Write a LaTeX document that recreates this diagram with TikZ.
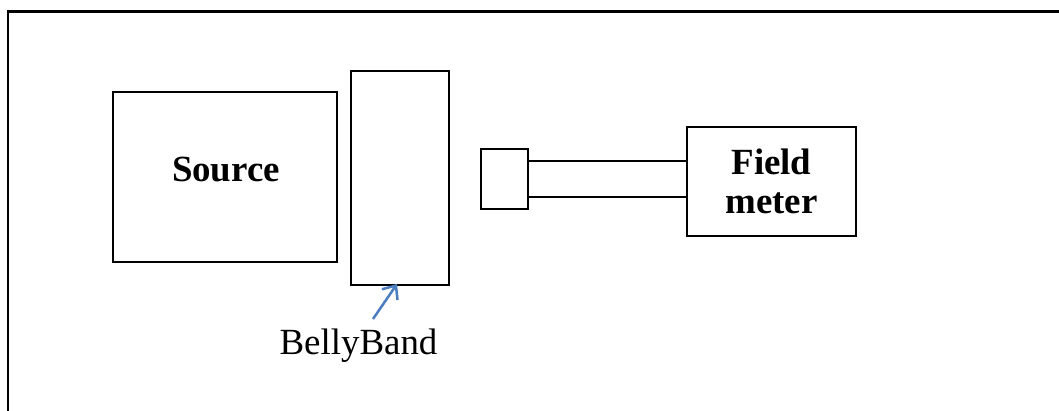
\documentclass[tikz,border=0pt]{standalone}
\usepackage{fontspec}
\setmainfont{Liberation Serif}
\usetikzlibrary{positioning,calc,arrows.meta}
\definecolor{arrowblue}{RGB}{74,126,190}
\tikzset{box/.style={draw,rectangle,line width=0.04cm,inner sep=0pt},
         title/.style={font=\fontsize{21}{22.2}\selectfont\bfseries,align=center},
         caption/.style={font=\fontsize{21}{20}\selectfont},
         frame/.style={line width=0.06cm},
         tube/.style={line width=0.04cm},
         pointer/.style={->,>={Straight Barb[length=0.22cm,width=0.38cm]},arrowblue,line width=0.05cm}
}

\begin{document}
\begin{tikzpicture}[x=0.02cm,y=-0.02cm]
      \useasboundingbox (0,0) rectangle (1059,411);
      \draw[frame] (8,411) -- (8,12) -- (1059,12);
      \node[box,minimum width=224*0.02cm,minimum height=170*0.02cm] (source) at (224.5,177) {};
      \node[title,anchor=base] (sourcetext) at (226,182) {Source};
      \node[box,minimum width=98*0.02cm,minimum height=214*0.02cm] (band) at (400,178) {};
      \node[box,minimum width=47*0.02cm,minimum height=60*0.02cm] (probe) at (504.5,179) {};
      \node[box,title,minimum width=169*0.02cm,minimum height=109*0.02cm] (meter) at (771.5,181.5) {Field\\meter};
      \draw[tube] ([yshift=0.36cm]probe.east) -- ([yshift=0.36cm]probe.east -| meter.west);
      \draw[tube] ([yshift=-0.36cm]probe.east) -- ([yshift=-0.36cm]probe.east -| meter.west);
      \node[caption,anchor=base] (bellyband) at (358.5,355) {BellyBand};
      \coordinate (tail) at (373,319);
      \draw[pointer] (tail) -- ([xshift=-0.06cm,yshift=0.04cm]band.south);
\end{tikzpicture}
\end{document}
